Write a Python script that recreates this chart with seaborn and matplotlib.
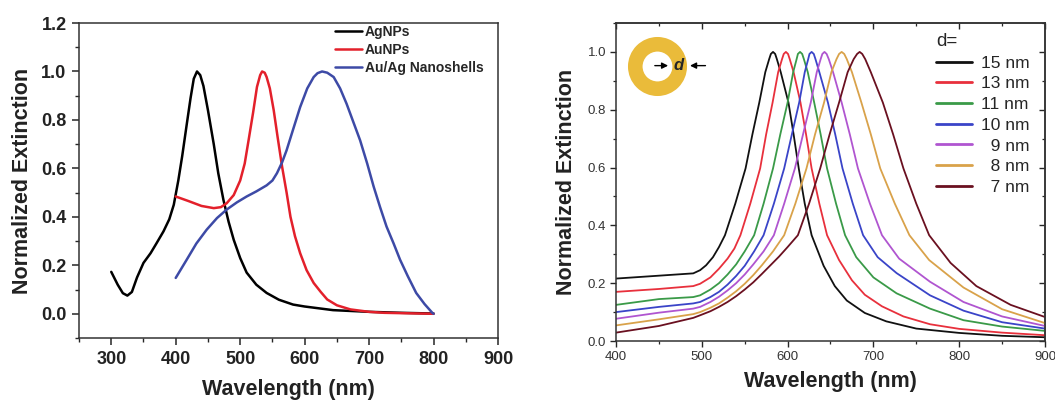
import numpy as np
import pandas as pd
import matplotlib
matplotlib.use("Agg")
import matplotlib.pyplot as plt
from matplotlib.ticker import MultipleLocator
import seaborn as sns

# ---------------- data: left panel ----------------
ag_wl = [300, 310, 318, 325, 332, 340, 350, 361, 370, 381, 390, 397, 404, 410, 417, 423, 428, 433,
         438, 443, 450, 459, 466, 474, 482, 490, 500, 510, 525, 541, 560, 582, 600, 644, 700, 750, 800]
ag_ext = [0.173, 0.12, 0.085, 0.075, 0.09, 0.15, 0.21, 0.25, 0.29, 0.34, 0.39, 0.45, 0.55, 0.65, 0.78,
          0.89, 0.97, 1.0, 0.985, 0.94, 0.84, 0.70, 0.58, 0.47, 0.38, 0.305, 0.23, 0.17, 0.12, 0.086,
          0.058, 0.038, 0.03, 0.015, 0.008, 0.004, 0.001]

au_wl = [400, 420, 440, 459, 470, 479, 490, 500, 507, 513, 520, 526, 531, 534, 538, 541, 546, 552,
         558, 565, 572, 578, 585, 593, 603, 614, 625, 635, 650, 671, 700, 723, 760, 800]
au_ext = [0.484, 0.465, 0.445, 0.436, 0.44, 0.456, 0.49, 0.55, 0.62, 0.716, 0.83, 0.936, 0.985, 1.0,
          0.995, 0.977, 0.93, 0.84, 0.73, 0.607, 0.50, 0.40, 0.32, 0.25, 0.18, 0.127, 0.09, 0.059,
          0.035, 0.018, 0.008, 0.004, 0.002, 0.0]

sh_wl = [400, 417, 432, 448, 464, 479, 495, 510, 525, 541, 550, 557, 565, 572, 582, 593, 604, 614,
         620, 627, 635, 645, 655, 665, 675, 686, 697, 707, 717, 727, 738, 748, 760, 773, 786, 798, 800]
sh_ext = [0.148, 0.223, 0.29, 0.347, 0.395, 0.43, 0.46, 0.484, 0.505, 0.53, 0.55, 0.58, 0.625, 0.675,
          0.76, 0.853, 0.93, 0.977, 0.993, 1.0, 0.995, 0.977, 0.93, 0.867, 0.795, 0.716, 0.62, 0.525,
          0.44, 0.36, 0.29, 0.223, 0.155, 0.086, 0.04, 0.004, 0.0]

left_labels = ["AgNPs", "AuNPs", "Au/Ag Nanoshells"]
left_colors = ["#000000", "#e3202b", "#3d4aa6"]

# ---------------- data: right panel (one wavelength list per shell thickness) ----------------
wl15 = [400, 450, 490, 498, 505, 513, 520, 527, 539, 551, 559, 567, 574, 578.5, 580.5, 583, 585.5,
        587.5, 592, 601, 607, 613, 620, 628, 642, 655, 669, 690, 715, 750, 800, 850, 900]
ext15 = [0.216, 0.226, 0.234, 0.245, 0.262, 0.29, 0.325, 0.366, 0.475, 0.597, 0.715, 0.825, 0.93,
         0.975, 0.993, 1.0, 0.993, 0.975, 0.93, 0.825, 0.715, 0.597, 0.475, 0.366, 0.26, 0.19, 0.14,
         0.097, 0.068, 0.043, 0.028, 0.018, 0.013]
wl13 = [400, 450, 490, 498, 510, 520, 530, 538, 545, 556.5, 568, 575, 582.5, 589, 593.5, 595.5, 598,
        600.5, 602.5, 607, 615, 621.5, 628, 637, 646, 660, 675, 690, 710, 735, 766, 800, 850, 900]
ext13 = [0.17, 0.18, 0.19, 0.198, 0.22, 0.25, 0.285, 0.32, 0.366, 0.475, 0.597, 0.715, 0.825, 0.93,
         0.975, 0.993, 1.0, 0.993, 0.975, 0.93, 0.825, 0.715, 0.597, 0.475, 0.366, 0.28, 0.21, 0.16,
         0.12, 0.085, 0.058, 0.042, 0.029, 0.02]
wl11 = [400, 450, 490, 498, 510, 520, 530, 540, 550, 561, 572, 583, 591.5, 600, 606.5, 610.5, 612,
        614.5, 617, 619, 623.5, 631, 638.5, 646, 656.5, 667, 680, 700, 727, 766, 805, 850, 900]
ext11 = [0.125, 0.145, 0.152, 0.158, 0.178, 0.2, 0.23, 0.265, 0.31, 0.366, 0.475, 0.597, 0.715,
         0.825, 0.93, 0.975, 0.993, 1.0, 0.993, 0.975, 0.93, 0.825, 0.715, 0.597, 0.475, 0.366, 0.29,
         0.22, 0.165, 0.112, 0.072, 0.05, 0.035]
wl10 = [400, 450, 490, 498, 510, 520, 530, 540, 550, 561, 572, 584, 596, 605, 613.5, 620, 624,
        625.5, 628, 630.5, 632.5, 637, 647, 655.5, 664, 676, 688, 705, 727, 766, 805, 850, 900]
ext10 = [0.10, 0.118, 0.13, 0.135, 0.152, 0.17, 0.195, 0.225, 0.26, 0.31, 0.366, 0.475, 0.597, 0.715,
         0.825, 0.93, 0.975, 0.993, 1.0, 0.993, 0.975, 0.93, 0.825, 0.715, 0.597, 0.475, 0.366, 0.29,
         0.235, 0.158, 0.105, 0.065, 0.043]
wl9 = [400, 450, 490, 498, 510, 520, 530, 540, 550, 560, 572, 584, 596, 608.5, 618, 627, 634, 638.5,
       640.5, 643, 645.5, 648, 653, 663, 672.5, 682, 696, 710, 730, 766, 805, 850, 900]
ext9 = [0.077, 0.098, 0.112, 0.118, 0.135, 0.153, 0.175, 0.2, 0.23, 0.265, 0.31, 0.366, 0.475, 0.597,
        0.715, 0.825, 0.93, 0.975, 0.993, 1.0, 0.993, 0.975, 0.93, 0.825, 0.715, 0.597, 0.475, 0.366,
        0.285, 0.205, 0.135, 0.085, 0.052]
wl8 = [400, 450, 490, 498, 510, 520, 530, 540, 550, 560, 570, 583, 596, 609, 622, 632, 642.5, 651,
       657, 660, 663, 666, 669, 675, 686, 697, 708, 725, 742, 765, 805, 850, 900]
ext8 = [0.054, 0.075, 0.093, 0.10, 0.115, 0.13, 0.15, 0.172, 0.198, 0.228, 0.262, 0.31, 0.366, 0.475,
        0.597, 0.715, 0.825, 0.93, 0.975, 0.993, 1.0, 0.993, 0.975, 0.93, 0.825, 0.715, 0.597, 0.475,
        0.366, 0.28, 0.185, 0.11, 0.062]
wl7 = [400, 450, 490, 498, 510, 520, 530, 540, 550, 560, 570, 580, 590, 600, 612, 625, 638, 649, 660,
       670, 677, 681, 684, 687, 690.5, 697, 711, 723, 735, 750, 765, 790, 820, 860, 900]
ext7 = [0.029, 0.052, 0.08, 0.089, 0.103, 0.118, 0.135, 0.155, 0.178, 0.203, 0.232, 0.262, 0.292,
        0.325, 0.366, 0.475, 0.597, 0.715, 0.825, 0.93, 0.975, 0.993, 1.0, 0.993, 0.975, 0.93, 0.825,
        0.715, 0.597, 0.475, 0.366, 0.27, 0.19, 0.125, 0.083]

right_labels = ["15 nm", "13 nm", "11 nm", "10 nm", "\u20079 nm", "\u20078 nm", "\u20077 nm"]
right_wl = [wl15, wl13, wl11, wl10, wl9, wl8, wl7]
right_ext = [ext15, ext13, ext11, ext10, ext9, ext8, ext7]
right_colors = ["#111111", "#e8303c", "#3a9a48", "#3a44c8", "#b055d0", "#d9a24a", "#6a1020"]

# ---------------- style ----------------
sns.set_theme(style="ticks")
plt.rcParams["font.family"] = ["Liberation Sans", "DejaVu Sans"]
plt.rcParams["axes.linewidth"] = 1.1
plt.rcParams["axes.edgecolor"] = "#333333"

fig = plt.figure(figsize=(10.55, 4.01), dpi=100)
axL = fig.add_axes([0.0749, 0.1571, 0.3972, 0.7855])
axR = fig.add_axes([0.5839, 0.1496, 0.4066, 0.7930])

# ---------------- left panel ----------------
dfL = pd.concat([
    pd.DataFrame({"wl": ag_wl, "ext": ag_ext, "sample": left_labels[0]}),
    pd.DataFrame({"wl": au_wl, "ext": au_ext, "sample": left_labels[1]}),
    pd.DataFrame({"wl": sh_wl, "ext": sh_ext, "sample": left_labels[2]}),
])
sns.lineplot(data=dfL, x="wl", y="ext", hue="sample", palette=dict(zip(left_labels, left_colors)),
             linewidth=1.8, ax=axL, sort=False, estimator=None)
axL.set_xlim(250, 900)
axL.set_ylim(-0.1, 1.2)
axL.xaxis.set_minor_locator(MultipleLocator(50))
axL.yaxis.set_minor_locator(MultipleLocator(0.1))
axL.set_xticks([300, 400, 500, 600, 700, 800, 900])
axL.set_xticklabels(["300", "400", "500", "600", "700", "800", "900"])
axL.set_yticks([0.0, 0.2, 0.4, 0.6, 0.8, 1.0, 1.2])
axL.set_yticklabels(["0.0", "0.2", "0.4", "0.6", "0.8", "1.0", "1.2"])
axL.tick_params(which="major", direction="out", length=5, width=1.1, labelsize=13, pad=4)
axL.tick_params(which="minor", direction="out", length=3, width=1.0)
for lab in axL.get_xticklabels() + axL.get_yticklabels():
    lab.set_fontweight("bold")
    lab.set_color("#222222")
axL.set_xlabel("Wavelength (nm)", fontsize=15.5, fontweight="bold", color="#222222", labelpad=8)
axL.set_ylabel("Normalized Extinction", fontsize=15.5, fontweight="bold", color="#222222", labelpad=6)
for s in axL.spines.values():
    s.set_visible(True)
hL, lL = axL.get_legend_handles_labels()
axL.legend(hL, lL, loc="upper left", bbox_to_anchor=(335 / 1055, 1 - 25 / 401),
           bbox_transform=fig.transFigure, frameon=False, borderpad=0, borderaxespad=0,
           handlelength=1.95, handletextpad=0.2, labelspacing=0.3,
           prop={"weight": "bold", "size": 10})

# ---------------- right panel ----------------
dfR = pd.concat([pd.DataFrame({"wl": w, "ext": e, "d": lab})
                 for w, e, lab in zip(right_wl, right_ext, right_labels)])
sns.lineplot(data=dfR, x="wl", y="ext", hue="d", palette=dict(zip(right_labels, right_colors)),
             linewidth=1.3, ax=axR, sort=False, estimator=None)
axR.set_xlim(400, 900)
axR.set_ylim(0.0, 1.1)
axR.xaxis.set_major_locator(MultipleLocator(100))
axR.xaxis.set_minor_locator(MultipleLocator(50))
axR.set_yticks([0.0, 0.2, 0.4, 0.6, 0.8, 1.0])
axR.yaxis.set_minor_locator(MultipleLocator(0.1))
axR.tick_params(which="major", direction="out", length=4, width=1.0, labelsize=9.5, pad=3,
                labelcolor="#333333")
axR.tick_params(which="minor", direction="out", length=2.5, width=0.9)
secx = axR.secondary_xaxis("top")
secx.xaxis.set_major_locator(MultipleLocator(100))
secx.xaxis.set_minor_locator(MultipleLocator(50))
secx.tick_params(which="major", direction="in", length=4, width=1.0, labeltop=False)
secx.tick_params(which="minor", direction="in", length=2.5, width=0.9)
secy = axR.secondary_yaxis("right")
secy.yaxis.set_major_locator(MultipleLocator(0.2))
secy.yaxis.set_minor_locator(MultipleLocator(0.1))
secy.tick_params(which="major", direction="in", length=4, width=1.0, labelright=False)
secy.tick_params(which="minor", direction="in", length=2.5, width=0.9)
axR.set_xlabel("Wavelength (nm)", fontsize=15.5, fontweight="bold", color="#222222", labelpad=6)
axR.set_ylabel("Normalized Extinction", fontsize=15.5, fontweight="bold", color="#222222", labelpad=8)
hR, lR = axR.get_legend_handles_labels()
legR = axR.legend(hR, lR, title="d=", loc="upper left", bbox_to_anchor=(936 / 1055, 1 - 33 / 401),
                  bbox_transform=fig.transFigure, frameon=False, borderpad=0, borderaxespad=0,
                  handlelength=2.05, handletextpad=0.55, labelspacing=0.32, fontsize=12.5,
                  title_fontsize=13.5, alignment="left")
for line in legR.get_lines():
    line.set_linewidth(2.0)

# ring schematic
axR.plot([0.0956], [0.866], transform=axR.transAxes, marker="o", markersize=32,
         markerfacecolor="none", markeredgecolor="#eabb3a", markeredgewidth=10.5, linestyle="none",
         clip_on=False)
arrow = dict(arrowstyle="-|>", color="black", lw=1.0, mutation_scale=9)
axR.annotate("", xy=(0.128, 0.866), xytext=(0.084, 0.866), xycoords="axes fraction",
             textcoords="axes fraction", arrowprops=arrow)
axR.annotate("", xy=(0.166, 0.866), xytext=(0.215, 0.866), xycoords="axes fraction",
             textcoords="axes fraction", arrowprops=arrow)
axR.text(0.147, 0.866, "d", transform=axR.transAxes, ha="center", va="center",
         fontsize=12, fontweight="bold", fontstyle="italic")

fig.savefig("out.png", dpi=100)
